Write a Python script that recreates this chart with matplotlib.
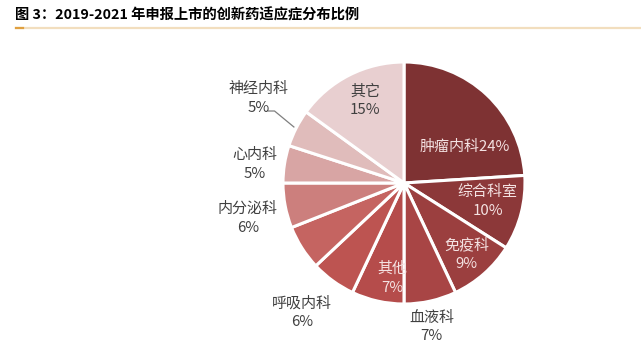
import matplotlib.pyplot as plt
from matplotlib.lines import Line2D

plt.rcParams['font.family'] = ['Noto Sans CJK SC', 'DejaVu Sans']

# clockwise from 12 o'clock; one slice carries no label in the source
categories = ['肿瘤内科', '综合科室', '免疫科', '血液科', '其他', '呼吸内科', '', '内分泌科', '心内科', '神经内科', '其它']
shares = [24, 10, 9, 7, 7, 6, 6, 6, 5, 5, 15]
colors = ['#7E3233', '#8C3839', '#9B3F3F', '#A84545', '#B54C4B', '#BD5451',
          '#C56461', '#CC7F7D', '#D8A5A4', '#E0BCBB', '#E8CFD0']

# label placement (pie units), text colour
label_pos = {
    '肿瘤内科': ((0.50, 0.30), '#F4E2E2', True),
    '综合科室': ((0.69, -0.15), '#F4E2E2', False),
    '免疫科': ((0.52, -0.59), '#F4E2E2', False),
    '其他': ((-0.10, -0.79), '#F4E2E2', False),
    '血液科': ((0.23, -1.19), '#404040', False),
    '呼吸内科': ((-0.84, -1.07), '#404040', False),
    '内分泌科': ((-1.29, -0.29), '#404040', False),
    '心内科': ((-1.23, 0.15), '#404040', False),
    '神经内科': ((-1.20, 0.70), '#404040', False),
    '其它': ((-0.32, 0.68), '#404040', False),
}

fig = plt.figure(figsize=(6.41, 3.56), dpi=100)

fig.text(15 / 641, 1 - 15 / 356, '图 3：2019-2021 年申报上市的创新药适应症分布比例',
         fontsize=10.3, fontweight='bold', va='center', ha='left', color='#000000')
fig.add_artist(Line2D([16 / 641, 1.0], [1 - 27.5 / 356] * 2, color='#F2DEBE', lw=1.6))
fig.add_artist(Line2D([16 / 641, 23 / 641], [1 - 27.5 / 356] * 2, color='#E0A040', lw=1.6))

ax = fig.add_axes([(404 - 121) / 641, (356 - 183 - 121) / 356, 242 / 641, 242 / 356])
ax.pie(shares, colors=colors, startangle=90, counterclock=False,
       wedgeprops=dict(edgecolor='white', linewidth=2.2))
ax.set_xlim(-1, 1)
ax.set_ylim(-1, 1)
ax.set_aspect('equal')
ax.axis('off')

for name, val in zip(categories, shares):
    if not name:
        continue
    (x, y), col, one_line = label_pos[name]
    txt = f'{name}{val}%' if one_line else f'{name}\n{val}%'
    ax.text(x, y, txt, ha='center', va='center', fontsize=10.8, color=col,
            linespacing=1.45, clip_on=False)

# leader line for the small neurology slice
ax.plot([-1.12, -1.07, -0.91], [0.595, 0.595, 0.463], color='#7F7F7F', lw=0.9, clip_on=False)

fig.savefig('out.png', dpi=100)
